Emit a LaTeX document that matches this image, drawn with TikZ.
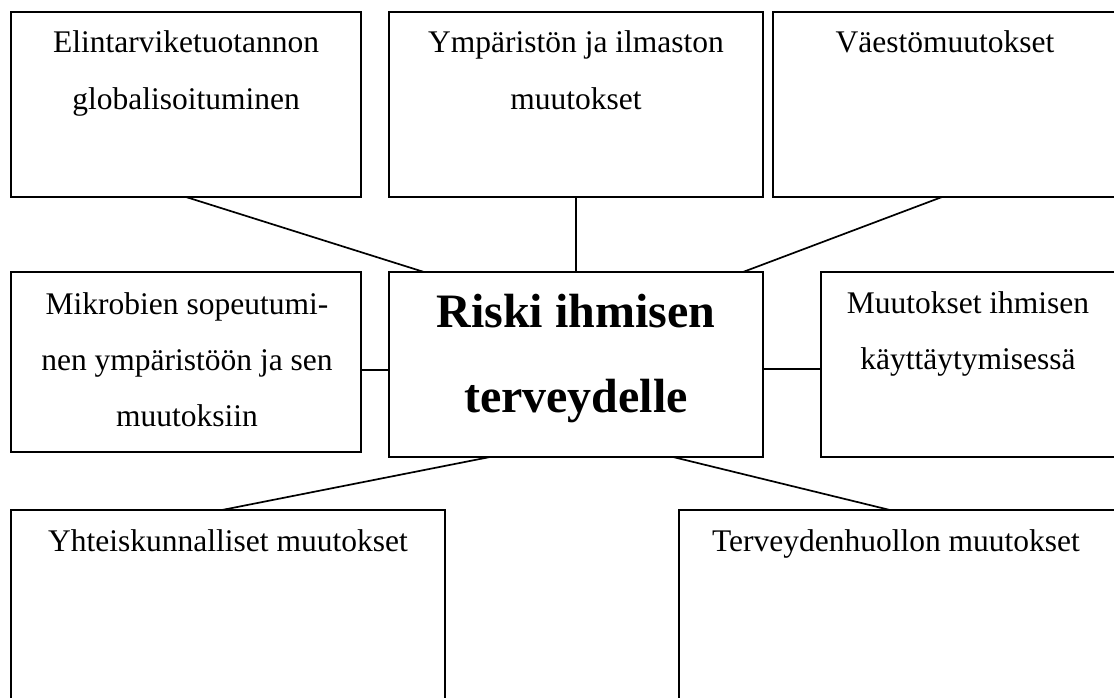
\documentclass[tikz,border=0pt]{standalone}
\usepackage{fontspec}
\setmainfont{Liberation Serif}
\begin{document}
\begin{tikzpicture}[x=1pt,y=-1pt,
  box/.style={draw, line width=1.8pt, inner sep=0pt, outer sep=0pt, minimum width=#1},
  conn/.style={line width=1.7pt},
  txt/.style={anchor=base, align=center, inner sep=0pt, font=\fontsize{31.5}{56.3}\selectfont},
  bigtxt/.style={anchor=base, align=center, inner sep=0pt, font=\fontsize{48}{85}\selectfont\bfseries}]
\useasboundingbox (0,0) rectangle (1114,698);
\clip (0,0) rectangle (1114,698);
% boxes (right-hand boxes run past the right edge, lower boxes past the bottom edge)
\node[box=350pt, minimum height=185pt] (tl) at (186,104.5) {};
\node[box=374pt, minimum height=185pt] (tm) at (576,104.5) {};
\node[box=354pt, minimum height=185pt] (tr) at (950,104.5) {};
\node[box=350pt, minimum height=180pt] (ml) at (186,362) {};
\node[box=374pt, minimum height=185pt] (c) at (576,364.5) {};
\node[box=304pt, minimum height=185pt] (mr) at (973,364.5) {};
\node[box=434pt, minimum height=200pt] (bl) at (228,610) {};
\node[box=444pt, minimum height=200pt] (br) at (901,610) {};
% texts (anchor = baseline of the last line)
\node[txt] (tlt) at (186,109.3) {Elintarviketuotannon\\globalisoituminen};
\node[txt] (tmt) at (576,109.3) {Ympäristön ja ilmaston\\muutokset};
\node[txt] (trt) at (945,53) {Väestömuutokset};
\node[txt] (mlt) at (187,426.6) {Mikrobien sopeutumi-\\nen ympäristöön ja sen\\muutoksiin};
\node[bigtxt] (ct) at (576,412) {Riski ihmisen\\terveydelle};
\node[txt] (mrt) at (968,369.3) {Muutokset ihmisen\\käyttäytymisessä};
\node[txt] (blt) at (228,551) {Yhteiskunnalliset muutokset};
\node[txt] (brt) at (896,551) {Terveydenhuollon muutokset};
% connectors
\draw[conn] (tl.south) -- ([xshift=35pt]c.north west);
\draw[conn] (tm.south) -- (c.north);
\draw[conn] ([xshift=-8pt]tr.south) -- ([xshift=-20pt]c.north east);
\draw[conn] ([yshift=-5.5pt]c.west) -- ([yshift=-5.5pt]c.west -| ml.east);
\draw[conn] ([yshift=-4.5pt]c.east) -- ([yshift=-4.5pt]c.east -| mr.west);
\draw[conn] ([xshift=101pt]c.south west) -- ([xshift=211pt]bl.north west);
\draw[conn] ([xshift=-90pt]c.south east) -- ([xshift=211pt]br.north west);
\end{tikzpicture}
\end{document}
